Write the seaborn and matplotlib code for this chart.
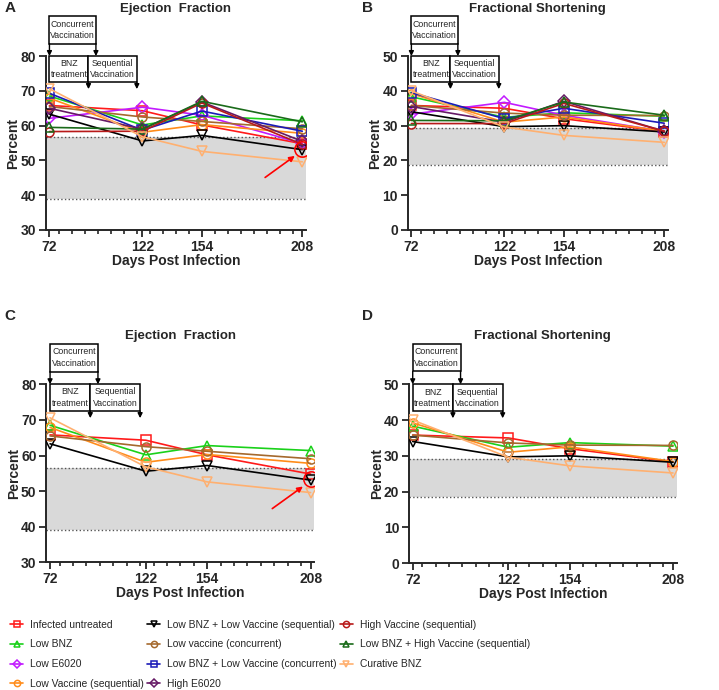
import matplotlib
matplotlib.use("Agg")
import matplotlib.pyplot as plt
import matplotlib.ticker as mticker
from matplotlib.patches import Rectangle
from matplotlib.transforms import blended_transform_factory
from matplotlib.lines import Line2D
import numpy as np
import seaborn as sns

sns.set_style("ticks")
plt.rcParams["font.family"] = ["Liberation Sans", "DejaVu Sans"]

days = [72, 122, 154, 208]
day_ticks = [72, 122, 154, 208]

groups = [
    "Infected untreated", "Low BNZ", "Low E6020", "Low Vaccine (sequential)",
    "Low BNZ + Low Vaccine (sequential)", "Low vaccine (concurrent)",
    "Low BNZ + Low Vaccine (concurrent)", "High E6020",
    "High Vaccine (sequential)", "Low BNZ + High Vaccine (sequential)",
    "Curative BNZ",
]
colors = ["#ff1a1a", "#1ad11a", "#c21aff", "#ff8c1a", "#000000", "#a5692d",
          "#1a1ab8", "#661a66", "#b81a1a", "#1a6b1a", "#ffb070"]
markers = ["s", "^", "D", "o", "v", "o", "s", "D", "o", "^", "v"]

# ejection fraction (%) per group at each day
ef = {
    "Infected untreated": [65.8, 64.3, 60.2, 54.8],
    "Low BNZ": [68.5, 60.2, 62.8, 61.4],
    "Low E6020": [62.1, 65.3, 63.0, 54.9],
    "Low Vaccine (sequential)": [67.9, 58.1, 60.3, 57.8],
    "Low BNZ + Low Vaccine (sequential)": [63.3, 55.6, 57.2, 53.1],
    "Low vaccine (concurrent)": [65.5, 62.5, 61.2, 59.1],
    "Low BNZ + Low Vaccine (concurrent)": [69.3, 58.7, 64.2, 58.4],
    "High E6020": [65.0, 59.0, 66.8, 55.5],
    "High Vaccine (sequential)": [58.3, 58.4, 66.5, 54.6],
    "Low BNZ + High Vaccine (sequential)": [59.5, 59.0, 67.0, 61.1],
    "Curative BNZ": [70.6, 56.8, 52.6, 49.6],
}
# fractional shortening (%)
fs = {
    "Infected untreated": [35.8, 35.0, 32.0, 28.3],
    "Low BNZ": [38.3, 32.4, 33.7, 32.7],
    "Low E6020": [33.3, 36.7, 33.0, 28.3],
    "Low Vaccine (sequential)": [39.2, 31.0, 32.5, 28.4],
    "Low BNZ + Low Vaccine (sequential)": [34.0, 29.7, 30.0, 28.2],
    "Low vaccine (concurrent)": [35.8, 33.6, 33.0, 32.9],
    "Low BNZ + Low Vaccine (concurrent)": [39.5, 32.0, 35.0, 30.7],
    "High E6020": [35.5, 31.0, 37.0, 28.4],
    "High Vaccine (sequential)": [30.6, 30.6, 36.4, 28.4],
    "Low BNZ + High Vaccine (sequential)": [31.5, 31.4, 36.8, 33.0],
    "Curative BNZ": [40.0, 29.6, 27.2, 25.2],
}
subset = ["Infected untreated", "Low BNZ", "Low Vaccine (sequential)",
          "Low BNZ + Low Vaccine (sequential)", "Low vaccine (concurrent)",
          "Curative BNZ"]

ef_band = (39.0, 56.6)
fs_band = (18.6, 29.2)
ef_circle = (208, 53.3)


def draw_boxes(ax):
    tr = blended_transform_factory(ax.transData, ax.transAxes)
    lo, c_lo, c_hi, tip = 0.85, 1.072, 1.228, 0.81
    for x0, x1, y0, y1, txt in [(72, 97, c_lo, c_hi, "Concurrent\nVaccination"),
                                (72, 93, lo, 1.0, "BNZ\ntreatment"),
                                (93, 119, lo, 1.0, "Sequential\nVaccination")]:
        ax.add_patch(Rectangle((x0, y0), x1 - x0, y1 - y0, transform=tr,
                               facecolor="white", edgecolor="black", lw=1.1,
                               clip_on=False, zorder=5))
        ax.text((x0 + x1) / 2, (y0 + y1) / 2, txt, transform=tr, ha="center",
                va="center", fontsize=6.3, linespacing=1.35, zorder=6)
    for x, y0, y1 in [(72, c_lo, 1.0), (97, c_lo, 1.0), (93, lo, tip), (119, lo, tip)]:
        ax.annotate("", xy=(x, y1), xytext=(x, y0), xycoords=tr, textcoords=tr,
                    arrowprops=dict(arrowstyle="-|>", color="black", lw=1,
                                    mutation_scale=7, shrinkA=0, shrinkB=0),
                    annotation_clip=False, zorder=6)


def draw_panel(ax, data, names, band, ylim, title, circle=None):
    ax.axhspan(band[0], band[1], color="#d9d9d9", lw=0, zorder=0)
    for b in band:
        ax.axhline(b, color="#555555", ls=":", lw=1, zorder=1)
    for name in names:
        i = groups.index(name)
        sns.lineplot(x=days, y=data[name], color=colors[i], marker=markers[i],
                     markersize=6.5, markerfacecolor="none",
                     markeredgecolor=colors[i], markeredgewidth=1.1, lw=1.2,
                     ax=ax, label=name, legend=False, zorder=3)
    if circle is not None:
        ax.plot(*circle, marker="o", ms=11, mfc="none", mec="red", mew=1.1, zorder=4)
        ax.annotate("", xy=(circle[0] - 4, circle[1] - 2),
                    xytext=(circle[0] - 20, circle[1] - 8.2),
                    arrowprops=dict(arrowstyle="-|>", color="red", lw=1.2,
                                    mutation_scale=8, shrinkA=0, shrinkB=0))
    ax.set_xlim(70, 210)
    ax.set_ylim(*ylim)
    ax.set_xticks(day_ticks)
    ax.xaxis.set_minor_locator(mticker.FixedLocator(np.arange(77, 210, 7)))
    ax.set_yticks(np.arange(ylim[0], ylim[1] + 1, 10))
    ax.tick_params(axis="both", which="major", length=5, width=1.3,
                   labelsize=10, pad=2)
    ax.tick_params(axis="x", which="minor", length=3, width=1.2)
    for lab in ax.get_xticklabels() + ax.get_yticklabels():
        lab.set_fontweight("bold")
    for s in ["left", "bottom"]:
        ax.spines[s].set_linewidth(1.4)
    sns.despine(ax=ax)
    ax.set_xlabel("Days Post Infection", fontsize=10, fontweight="bold", labelpad=0)
    ax.set_ylabel("Percent", fontsize=10, fontweight="bold", labelpad=0)
    ax.text(0.5, 1.27, title, transform=ax.transAxes, ha="center", va="center",
            fontsize=9.5, fontweight="bold")
    draw_boxes(ax)


fig = plt.figure(figsize=(7.19, 6.9), dpi=100)
ax_a = fig.add_axes([0.0636, 0.6667, 0.362, 0.252])
ax_b = fig.add_axes([0.567, 0.6667, 0.362, 0.252])
ax_c = fig.add_axes([0.0643, 0.185, 0.373, 0.258])
ax_d = fig.add_axes([0.5687, 0.184, 0.3726, 0.259])

draw_panel(ax_a, ef, groups, ef_band, (30, 80), "Ejection  Fraction", ef_circle)
draw_panel(ax_b, fs, groups, fs_band, (0, 50), "Fractional Shortening")
draw_panel(ax_c, ef, subset, ef_band, (30, 80), "Ejection  Fraction", ef_circle)
draw_panel(ax_d, fs, subset, fs_band, (0, 50), "Fractional Shortening")

for letter, x, y in [("A", 0.006, 0.988), ("B", 0.503, 0.988),
                     ("C", 0.006, 0.542), ("D", 0.503, 0.542)]:
    fig.text(x, y, letter, fontsize=11, fontweight="bold", va="center")

handles = [Line2D([], [], color=c, marker=m, ms=4.5, mfc="none", mec=c, mew=1.1, lw=1.2)
           for c, m in zip(colors, markers)]
fig.legend(handles, groups, loc="upper left", bbox_to_anchor=(0.008, 0.108),
           ncol=3, frameon=False, handlelength=1.3, handletextpad=0.7,
           columnspacing=0.25, labelspacing=0.95, borderaxespad=0,
           prop={"size": 7.4})

fig.savefig("out.png", dpi=100)
